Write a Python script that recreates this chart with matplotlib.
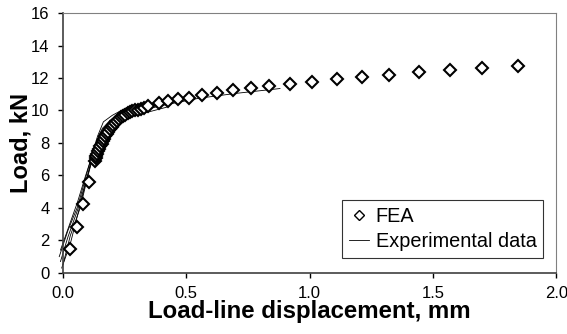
import matplotlib
matplotlib.use('Agg')
import matplotlib.pyplot as plt

plt.rcParams['font.family'] = ['Liberation Sans', 'DejaVu Sans']

# ---------- FEA (diamonds) ----------
fea_x = [0.028, 0.058, 0.083, 0.104,
         0.130, 0.133, 0.136, 0.140, 0.144, 0.148, 0.152, 0.157, 0.162, 0.167,
         0.172, 0.178, 0.184, 0.190, 0.197, 0.204, 0.211, 0.219, 0.227, 0.235,
         0.244, 0.253, 0.262, 0.272, 0.282, 0.293, 0.304, 0.316, 0.328,
         0.345, 0.390, 0.427, 0.465, 0.512, 0.564, 0.623, 0.688, 0.761, 0.837,
         0.920, 1.011, 1.110, 1.212, 1.320, 1.445, 1.570, 1.698, 1.843]
fea_y = [1.46, 2.81, 4.25, 5.62,
         6.90, 7.05, 7.20, 7.35, 7.50, 7.65, 7.80, 7.95, 8.10, 8.25,
         8.40, 8.55, 8.70, 8.85, 9.00, 9.12, 9.25, 9.37, 9.48, 9.58,
         9.67, 9.75, 9.82, 9.88, 9.94, 10.00, 10.05, 10.10, 10.15,
         10.25, 10.44, 10.58, 10.70, 10.79, 10.95, 11.06, 11.24, 11.37, 11.51,
         11.60, 11.77, 11.94, 12.08, 12.18, 12.37, 12.49, 12.63, 12.76]

# ---------- Experimental curves ----------
exp1_x = [-0.015, 0.02, 0.06, 0.10, 0.14, 0.164, 0.20, 0.261]
exp1_y = [1.0, 2.6, 4.1, 6.3, 8.4, 9.3, 9.7, 10.2]
exp2_x = [-0.01, 0.02, 0.06, 0.10, 0.13, 0.16, 0.20, 0.26]
exp2_y = [0.7, 2.2, 3.9, 6.0, 7.9, 8.9, 9.5, 9.95]
exp3_x = [-0.005, 0.03, 0.07, 0.10, 0.13, 0.16, 0.19, 0.25, 0.32, 0.42]
exp3_y = [0.3, 1.8, 4.2, 6.0, 7.6, 8.7, 9.4, 9.6, 9.8, 10.2]
exp4_x = [0.0, 0.03, 0.07, 0.10, 0.13, 0.17, 0.21, 0.28, 0.40, 0.55, 0.70, 0.88]
exp4_y = [0.5, 2.3, 4.0, 5.9, 7.6, 8.8, 9.4, 9.85, 10.3, 10.75, 11.05, 11.35]
exp5_x = [-0.01, 0.025, 0.06, 0.09, 0.12, 0.15, 0.18, 0.23]
exp5_y = [1.4, 2.9, 4.4, 5.9, 7.3, 8.6, 9.2, 9.7]

exp_curves = [(exp1_x, exp1_y), (exp2_x, exp2_y), (exp3_x, exp3_y),
              (exp4_x, exp4_y), (exp5_x, exp5_y)]

x_ticks = [0.0, 0.5, 1.0, 1.5, 2.0]
x_labels = ['0.0', '0.5', '1.0', '1.5', '2.0']
y_ticks = [0, 2, 4, 6, 8, 10, 12, 14, 16]

# ---------- Display ----------
fig = plt.figure(figsize=(5.67, 3.34), dpi=100)
ax = fig.add_axes([0.111, 0.183, 0.870, 0.778])

for i, (ex, ey) in enumerate(exp_curves):
    ax.plot(ex, ey, color='black', lw=0.6, clip_on=False,
            label='Experimental data' if i == 0 else None, zorder=2)

ax.plot(fea_x, fea_y, linestyle='none', marker='D', markersize=6.2,
        markerfacecolor='white', markeredgecolor='black', markeredgewidth=1.5,
        label='FEA', zorder=3)

ax.set_xlim(0, 2.0)
ax.set_ylim(0, 16)
ax.set_xticks(x_ticks)
ax.set_xticklabels(x_labels)
ax.set_yticks(y_ticks)
ax.tick_params(labelsize=12, direction='out', length=3.6, width=1, pad=6,
               colors='black')

for side in ['top', 'right']:
    ax.spines[side].set_color('#808080')
    ax.spines[side].set_linewidth(0.8)
for side in ['left', 'bottom']:
    ax.spines[side].set_color('#404040')
    ax.spines[side].set_linewidth(1.2)

ax.set_xlabel('Load-line displacement, mm', fontsize=17.3, fontweight='bold')
ax.xaxis.set_label_coords(0.5, -0.105)
ax.set_ylabel('Load, kN', fontsize=17, fontweight='bold')
ax.yaxis.set_label_coords(-0.061, 0.5)

handles, labels = ax.get_legend_handles_labels()
order = [labels.index('FEA'), labels.index('Experimental data')]
leg = ax.legend([handles[i] for i in order], [labels[i] for i in order],
                loc='lower right', bbox_to_anchor=(0.974, 0.058), fontsize=14.3,
                frameon=True, fancybox=False, edgecolor='black',
                handlelength=1.0, handletextpad=0.35, borderpad=0.35,
                borderaxespad=0, labelspacing=0.3, markerscale=0.75)
leg.get_frame().set_linewidth(0.8)
leg.legend_handles[0].set_markeredgewidth(1.0)

fig.savefig('out.png', dpi=100)
